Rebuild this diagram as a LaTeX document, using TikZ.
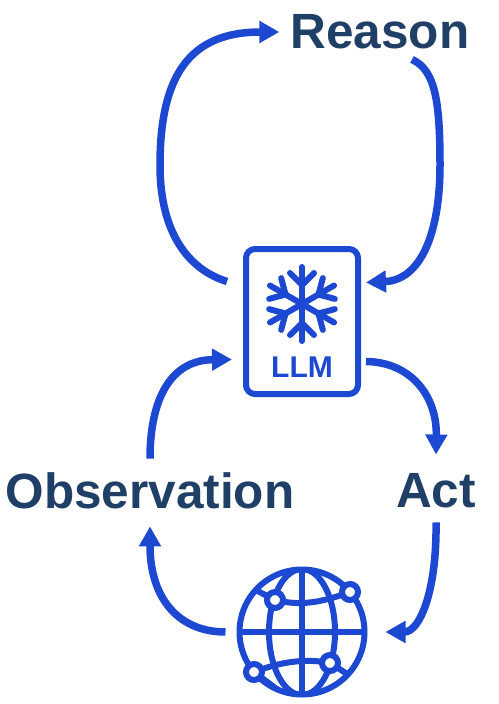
\documentclass[tikz,border=0pt]{standalone}
\usepackage{fontspec}
\setmainfont{Liberation Sans}
\usetikzlibrary{arrows.meta,calc}
\definecolor{loopblue}{HTML}{1C48D2}
\definecolor{navy}{HTML}{1F3F66}
\tikzset{
  x=1pt,y=-1pt,
  steplabel/.style={font=\fontsize{49.5}{49.5}\bfseries\selectfont,text=navy,inner sep=0pt,anchor=center},
  flow/.style={draw=loopblue,line width=7.5pt,-{Triangle[length=20pt,width=21pt]}},
  iconline/.style={draw=loopblue,line width=6pt},
  snow/.style={draw=loopblue,line width=6pt,line cap=round},
  netnode/.style={circle,draw=loopblue,line width=6pt,fill=white,minimum size=16pt,inner sep=0pt},
}
\begin{document}
\begin{tikzpicture}
\useasboundingbox (0,0) rectangle (498,704);
\node[steplabel] (reason) at (380,32) {Reason};
\node[steplabel] (obs) at (150,491) {Observation};
\node[steplabel] (act) at (436,491) {Act};
\node[draw=loopblue,line width=6pt,rounded corners=9pt,minimum width=112pt,minimum height=145pt,inner sep=0pt] (llm) at (302,321.5) {};
\node[font=\fontsize{30}{30}\bfseries\selectfont,text=loopblue,inner sep=0pt] (llmtext) at (302,367) {LLM};
\node[circle,iconline,minimum size=125pt,inner sep=0pt] (world) at (302,632) {};
% snowflake
\foreach \a in {30,90,...,330}{
  \begin{scope}[shift={(302,304)},rotate=\a]
    \draw[snow] (0,0) -- (37,0);
    \draw[snow] (19,0) -- (31,-12);
    \draw[snow] (19,0) -- (31,12);
  \end{scope}
}
% globe
\begin{scope}
  \clip (302,632) circle (63);
  \draw[iconline] (302,567) -- (302,697);
  \draw[iconline] (237,632) -- (367,632);
  \draw[iconline] (302,632) ellipse (33 and 63);
  \draw[iconline] (275,600) .. controls (300,606) and (320,603) .. (350,592);
  \draw[iconline] (254,672) .. controls (280,662) and (305,658) .. (330,663);
  \draw[iconline] (275,600) -- (248,586);
  \draw[iconline] (350,592) -- (330,572);
  \draw[iconline] (254,672) -- (278,690);
  \draw[iconline] (330,663) -- (352,677);
\end{scope}
\node[netnode] (n1) at (275,600) {};
\node[netnode] (n2) at (350,592) {};
\node[netnode] (n3) at (254,672) {};
\node[netnode] (n4) at (330,663) {};
% connectors
\draw[flow] ([shift={(-16,-40)}]llm.west) .. controls (190,270) and (160,235) .. (160,165) .. controls (160,75) and (190,32) .. ([xshift=-11]reason.west);
\draw[flow] ([shift={(32,10)}]reason.south) .. controls (435,70) and (440,100) .. (440,165) .. controls (440,235) and (420,280) .. ([shift={(5,-39)}]llm.east);
\draw[flow] ([shift={(5,40)}]llm.east) .. controls (410,362) and (437,395) .. ([yshift=19]act.north);
\draw[flow] ([yshift=-14]act.south) .. controls (437,590) and (420,632) .. ([xshift=18]world.east);
\draw[flow] ([xshift=-11]world.west) .. controls (180,632) and (150,600) .. ([yshift=-17]obs.south);
\draw[flow] ([yshift=14]obs.north) .. controls (150,400) and (170,360) .. ([shift={(-11,38)}]llm.west);
\end{tikzpicture}
\end{document}
